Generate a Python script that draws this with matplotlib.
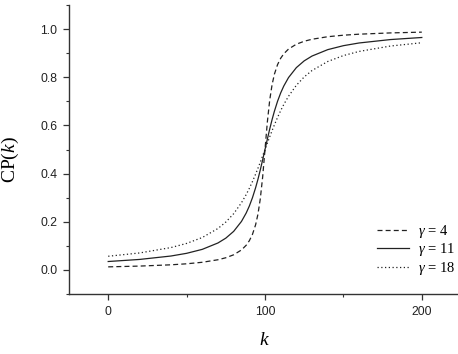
import numpy as np
import matplotlib.pyplot as plt
from matplotlib.ticker import MultipleLocator

# ── Data ──────────────────────────────────────────────────────────────────────
k = [0, 20, 40, 50, 60, 70, 75, 80, 85, 88, 90, 92, 94, 95.5, 97, 98.5, 100,
     101.5, 103, 104.5, 106, 108, 110, 112, 115, 120, 125, 130, 140, 150, 160, 180, 200]

cp_g4 = [0.0127, 0.0159, 0.0212, 0.0254, 0.0317, 0.0422, 0.0505, 0.0628, 0.0829,
         0.1024, 0.1211, 0.1476, 0.1872, 0.2313, 0.2952, 0.3858, 0.5,
         0.6142, 0.7048, 0.7687, 0.8128, 0.8524, 0.8789, 0.8976, 0.9171,
         0.9372, 0.9495, 0.9578, 0.9683, 0.9746, 0.9788, 0.9841, 0.9873]
cp_g11 = [0.0349, 0.0435, 0.0577, 0.0689, 0.0854, 0.1119, 0.1319, 0.1600, 0.2014,
          0.2362, 0.2651, 0.2998, 0.3410, 0.3762, 0.4153, 0.4569, 0.5,
          0.5431, 0.5847, 0.6238, 0.6590, 0.7002, 0.7349, 0.7638, 0.7986,
          0.8400, 0.8681, 0.8881, 0.9146, 0.9311, 0.9423, 0.9565, 0.9651]
cp_g18 = [0.0567, 0.0704, 0.0928, 0.1100, 0.1346, 0.1720, 0.1986, 0.2333, 0.2789,
          0.3128, 0.3386, 0.3669, 0.3976, 0.4220, 0.4474, 0.4735, 0.5,
          0.5265, 0.5526, 0.5780, 0.6024, 0.6331, 0.6614, 0.6872, 0.7211,
          0.7667, 0.8014, 0.8280, 0.8654, 0.8900, 0.9072, 0.9296, 0.9433]

labels = [r'$\gamma$ = 4', r'$\gamma$ = 11', r'$\gamma$ = 18']

plt.rcParams['mathtext.fontset'] = 'custom'
plt.rcParams['mathtext.it'] = 'Liberation Serif:italic'
plt.rcParams['mathtext.rm'] = 'Liberation Serif'

# ── Figure ────────────────────────────────────────────────────────────────────
W, H = 458, 354
AX_L, AX_R, AX_T, AX_B = 69, 461, 5, 294
aw, ah = AX_R - AX_L, AX_B - AX_T
fig = plt.figure(figsize=(W / 100, H / 100), dpi=100)
ax = fig.add_axes([AX_L / W, (H - AX_B) / H, aw / W, ah / H])

ink = '#222222'
ax.plot(k, cp_g4, color=ink, lw=0.9, linestyle=(0, (4, 2.5)), label=labels[0])
ax.plot(k, cp_g11, color=ink, lw=0.9, linestyle='-', label=labels[1])
ax.plot(k, cp_g18, color=ink, lw=0.9, linestyle=(0, (1, 2)), label=labels[2])

ax.set_xlim(-25, 225)
ax.set_ylim(-0.1, 1.1)
ax.xaxis.set_major_locator(MultipleLocator(100))
ax.xaxis.set_minor_locator(MultipleLocator(50))
ax.yaxis.set_major_locator(MultipleLocator(0.2))
ax.yaxis.set_minor_locator(MultipleLocator(0.1))
ax.set_yticklabels([f'{v:.1f}' for v in ax.get_yticks()])

for s in ['top', 'right']:
    ax.spines[s].set_visible(False)
for s in ['left', 'bottom']:
    ax.spines[s].set_linewidth(1.0)
    ax.spines[s].set_color('#333333')

ax.tick_params(which='major', direction='out', length=4, width=0.9, color='#333333',
               labelsize=8.8, labelcolor='#222222', pad=4.5)
ax.tick_params(which='minor', direction='out', length=2.2, width=0.8, color='#333333')
for t in ax.get_xticklabels() + ax.get_yticklabels():
    t.set_family('Liberation Sans')

ax.set_xlabel(r'$k$', fontsize=14)
ax.set_ylabel(r'CP($k$)', fontsize=14, family='Liberation Serif')
ax.xaxis.set_label_coords((264 - AX_L) / aw, -(330 - AX_B) / ah)
ax.yaxis.set_label_coords(-(AX_L - 21) / aw, (AX_B - 160) / ah)

leg = ax.legend(loc='lower right', bbox_to_anchor=((461 - AX_L) / aw, (AX_B - 283) / ah),
                frameon=False, fontsize=10.5, handlelength=2.2, handletextpad=0.6,
                labelspacing=0.12, borderaxespad=0)
for t in leg.get_texts():
    t.set_family('Liberation Serif')

fig.savefig('out.png', dpi=100)
